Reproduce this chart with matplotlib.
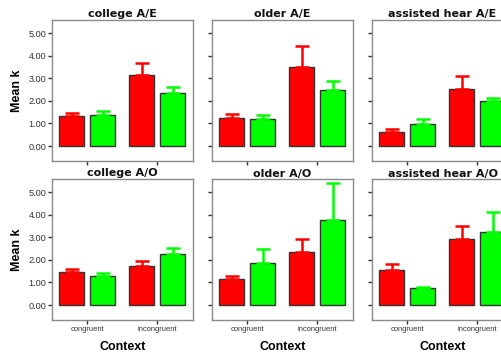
import numpy as np
import matplotlib
matplotlib.use("Agg")
import matplotlib.pyplot as plt

plt.rcParams['font.family'] = ['Liberation Sans', 'DejaVu Sans']

# data
contexts = ["congruent", "incongruent"]
titles = ["college A/E", "older A/E", "assisted hear A/E",
          "college A/O", "older A/O", "assisted hear A/O"]

# means, first series (red) and second series (green), per panel
red_mean = [[1.34, 3.16], [1.26, 3.49], [0.62, 2.54],
            [1.47, 1.74], [1.17, 2.37], [1.57, 2.94]]
red_top = [[1.47, 3.66], [1.42, 4.45], [0.76, 3.12],
           [1.60, 1.96], [1.29, 2.92], [1.82, 3.52]]
green_mean = [[1.39, 2.36], [1.22, 2.46], [0.98, 2.00],
              [1.29, 2.27], [1.87, 3.78], [0.77, 3.22]]
green_top = [[1.56, 2.63], [1.38, 2.89], [1.20, 2.14],
             [1.42, 2.54], [2.49, 5.39], [0.80, 4.14]]

yticks = [0, 1, 2, 3, 4, 5]

W, H = 501, 353
fig = plt.figure(figsize=(W / 100, H / 100), dpi=100)

lefts = [52, 212, 372]
tops = [20, 179]
aw, ah = 141, 141

x = np.arange(len(contexts))
bw = 0.36
off = 0.22

for i in range(6):
    r, c = divmod(i, 3)
    ax = fig.add_axes([lefts[c] / W, (H - tops[r] - ah) / H, aw / W, ah / H])
    for vals, tops_, col, dx in [(red_mean[i], red_top[i], '#ff0000', -off),
                                 (green_mean[i], green_top[i], '#00ff00', off)]:
        vals = np.array(vals)
        err = np.array(tops_) - vals
        ax.bar(x + dx, vals, bw, color=col, edgecolor='#333333', linewidth=1.0, zorder=2)
        ax.errorbar(x + dx, vals, yerr=[np.zeros_like(err), err], fmt='none',
                    ecolor=col, elinewidth=1.8, capsize=5, capthick=1.8, zorder=3)
    ax.set_xlim(-0.5, 1.51)
    ax.set_ylim(-0.66, 5.58)
    ax.set_yticks(yticks)
    ax.set_xticks(x)
    for s in ax.spines.values():
        s.set_color('#8a8a8a')
        s.set_linewidth(1.0)
    ax.tick_params(direction='out', length=3, width=1, color='#333333',
                   labelcolor='#333333', pad=1)
    ax.tick_params(axis='y', labelsize=6.6)
    ax.tick_params(axis='x', labelsize=5.4)
    if c == 0:
        ax.set_yticklabels([f"{v:.2f}" for v in yticks])
        ax.set_ylabel("Mean k", fontsize=9, fontweight='bold', labelpad=4)
    else:
        ax.set_yticklabels([])
    if r == 1:
        ax.set_xticklabels(contexts)
        ax.set_xlabel("Context", fontsize=9, fontweight='bold', labelpad=6)
    else:
        ax.set_xticklabels([])
    ax.text(0.5, 1.0 + 2.5 / ah, titles[i], transform=ax.transAxes,
            ha='center', va='baseline', fontsize=8, fontweight='bold',
            family='DejaVu Sans', color='#111111')

fig.savefig("out.png", dpi=100)
